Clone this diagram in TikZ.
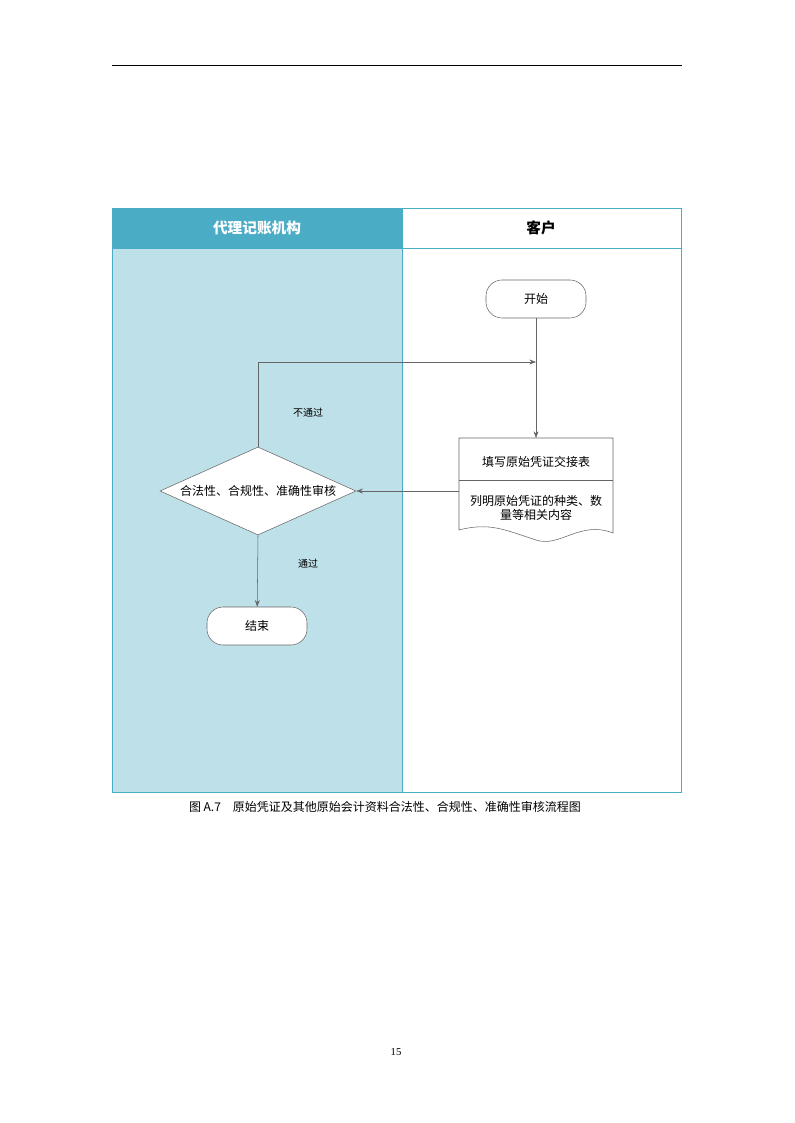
\documentclass[tikz,border=0pt]{standalone}
\usepackage{fontspec}
\setmainfont{Liberation Serif}
\newfontfamily\cjk{Noto Sans CJK SC}
\usetikzlibrary{shapes.geometric,arrows.meta}
\definecolor{laneblue}{HTML}{BEE0E8}
\definecolor{headblue}{HTML}{4BACC6}
\begin{document}
\begin{tikzpicture}[x=0.75pt,y=-0.75pt,font=\cjk\fontsize{9}{11}\selectfont,
  flow/.style={draw=black!60,-{Stealth[length=5pt]}},
  term/.style={draw=black!60,fill=white,rounded corners=12pt,minimum width=75pt,minimum height=28.5pt}]
  \useasboundingbox (0,0) rectangle (794,1123);
  \draw[black,line width=0.6pt] (112,65) -- (682,65);
  % lanes
  \fill[laneblue] (112,248) rectangle (402,792);
  \fill[headblue] (112,208) rectangle (402,248);
  \draw[headblue] (112,208) rectangle (681,792);
  \draw[headblue] (112,248) -- (681,248);
  \draw[headblue] (402,208) -- (402,792);
  \node[white,font=\cjk\bfseries\fontsize{11}{13}\selectfont] (hagent) at (257,228) {代理记账机构};
  \node[font=\cjk\bfseries\fontsize{11}{13}\selectfont] (hclient) at (541,228) {客户};
  % nodes
  \node[term] (start) at (536,299) {开始};
  \node[diamond,draw=black!60,fill=white,aspect=2.2,minimum width=147pt,minimum height=66pt,inner sep=0pt] (check) at (258,491) {合法性、合规性、准确性审核};
  \node[term] (end) at (257,626) {结束};
  % document
  \draw[black!60,fill=white] (459,438) -- (613,438) -- (613,533)
     .. controls (580,520) and (560,548) .. (536,540)
     .. controls (505,530) and (490,522) .. (459,530) -- cycle;
  \draw[black!60] (459,480) -- (613,480);
  \coordinate (doctop) at (536,438);
  \coordinate (docleft) at (459,491);
  \node (fill) at (536,462) {填写原始凭证交接表};
  \node[align=center] (list) at (536,508) {列明原始凭证的种类、数\\量等相关内容};
  % connectors
  \coordinate (merge) at (536,362);
  \draw[flow] (start) -- (doctop);
  \draw[flow] (docleft) -- (check.east);
  \draw[flow] (check.north) |- (merge);
  \draw[flow] (check.south) -- (end);
  \node[font=\cjk\fontsize{7.5}{9}\selectfont] (fail) at (308,413) {不通过};
  \node[font=\cjk\fontsize{7.5}{9}\selectfont] (pass) at (308,564) {通过};
  \node (cap) at (385,807) {图 A.7\quad 原始凭证及其他原始会计资料合法性、合规性、准确性审核流程图};
  \node[font=\fontsize{8}{10}\selectfont] (page) at (396,1052) {15};
\end{tikzpicture}
\end{document}
